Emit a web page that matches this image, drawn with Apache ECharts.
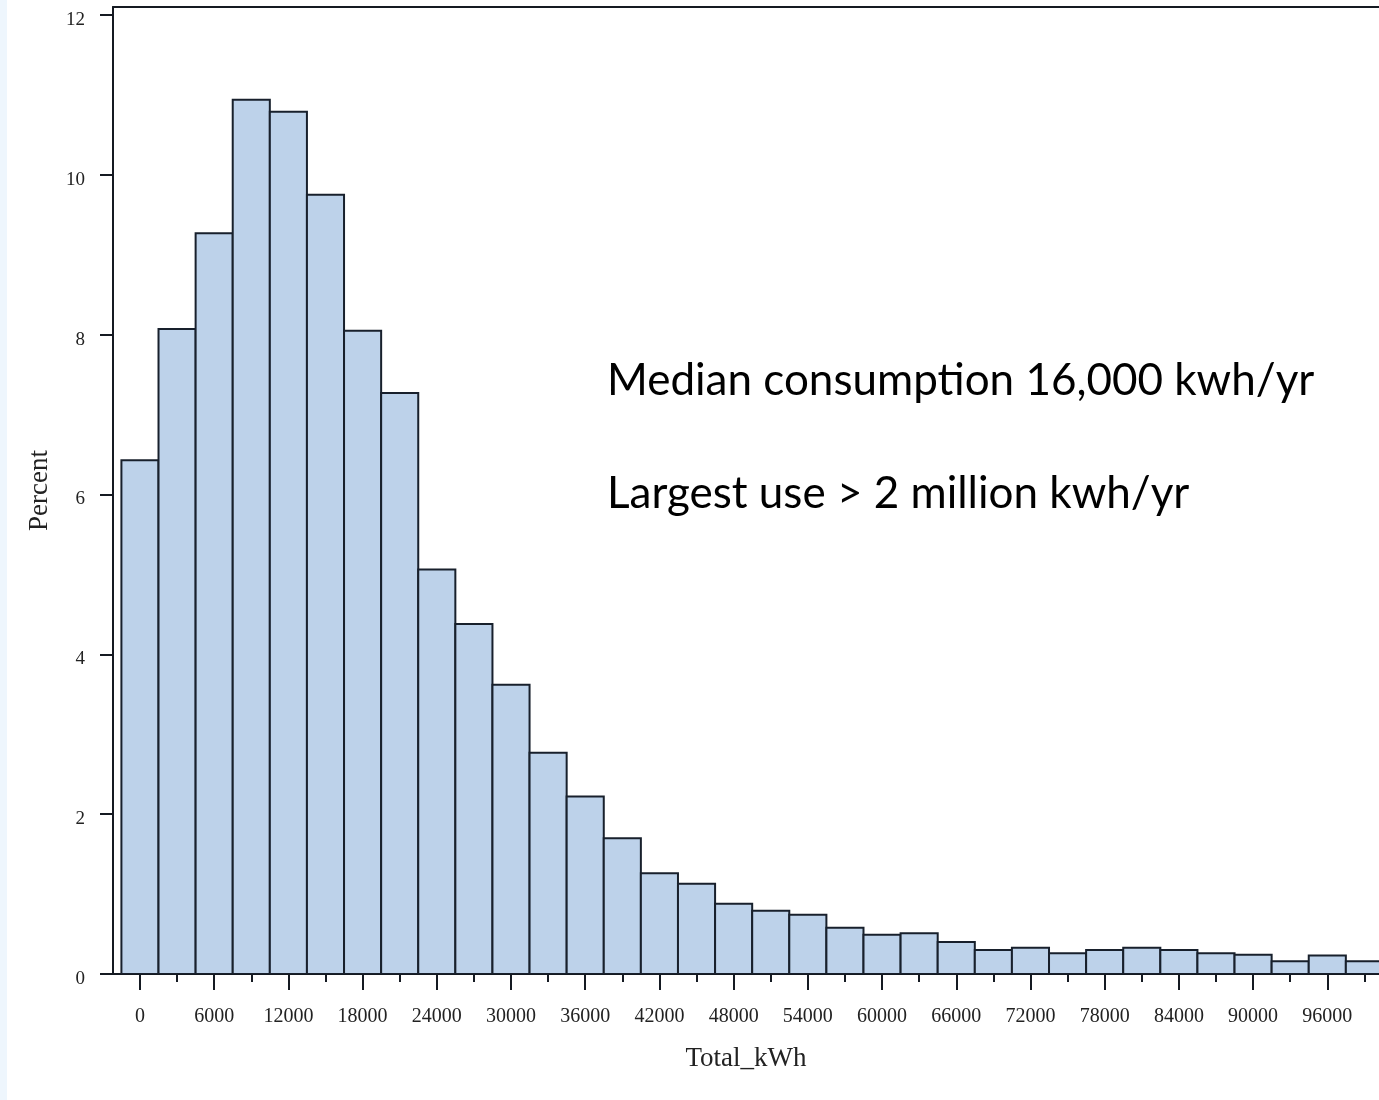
<!DOCTYPE html>
<html>
<head>
<meta charset="utf-8">
<script src="https://cdn.jsdelivr.net/npm/echarts@6/dist/echarts.min.js"></script>
<style>
  html, body { margin: 0; padding: 0; background: #ffffff; }
  #chart { width: 1379px; height: 1100px; }
</style>
</head>
<body>
<div id="chart"></div>
<script>
// ---- data ----
const binCenters = [0, 3000, 6000, 9000, 12000, 15000, 18000, 21000, 24000, 27000,
  30000, 33000, 36000, 39000, 42000, 45000, 48000, 51000, 54000, 57000,
  60000, 63000, 66000, 69000, 72000, 75000, 78000, 81000, 84000, 87000,
  90000, 93000, 96000, 99000];
const percentValues = [6.43, 8.07, 9.27, 10.94, 10.79, 9.75, 8.05, 7.27, 5.06, 4.38,
  3.62, 2.77, 2.22, 1.70, 1.26, 1.13, 0.88, 0.79, 0.74, 0.58,
  0.49, 0.51, 0.40, 0.30, 0.33, 0.26, 0.30, 0.33, 0.30, 0.26,
  0.24, 0.16, 0.23, 0.16];
const binWidth = 3000;
const majorTicks = [0, 6000, 12000, 18000, 24000, 30000, 36000, 42000, 48000,
  54000, 60000, 66000, 72000, 78000, 84000, 90000, 96000];
const minorTicks = [3000, 9000, 15000, 21000, 27000, 33000, 39000, 45000, 51000,
  57000, 63000, 69000, 75000, 81000, 87000, 93000, 99000];
const yTicks = [0, 2, 4, 6, 8, 10, 12];
const annotations = ['Median consumption 16,000 kwh/yr', 'Largest use > 2 million kwh/yr'];
const xTitle = 'Total_kWh';
const yTitle = 'Percent';

// ---- chart ----
const chart = echarts.init(document.getElementById('chart'), null, { renderer: 'canvas' });
const serif = '"Liberation Serif", "DejaVu Serif", serif';
const axisColor = '#151a22';
const xMin = -2180, xMax = 100180;
const yMax = 12.1;

const option = {
  backgroundColor: '#ffffff',
  animation: false,
  grid: { left: 113, right: 0, top: 7, bottom: 126, containLabel: false },
  xAxis: [
    {
      type: 'value', min: xMin, max: xMax, position: 'bottom',
      axisLine: { show: true, onZero: false, lineStyle: { color: axisColor, width: 2 } },
      axisTick: { show: true, length: 16, customValues: majorTicks, lineStyle: { color: axisColor, width: 2 } },
      axisLabel: { customValues: majorTicks, formatter: v => String(v), fontFamily: serif, fontSize: 20, color: '#222', margin: 33 },
      splitLine: { show: false },
      name: xTitle, nameLocation: 'middle', nameGap: 71,
      nameTextStyle: { fontFamily: serif, fontSize: 27, color: '#222' }
    },
    {
      type: 'value', min: xMin, max: xMax, position: 'bottom',
      axisLine: { show: false, onZero: false },
      axisTick: { show: true, length: 8, customValues: minorTicks, lineStyle: { color: axisColor, width: 2 } },
      axisLabel: { show: false },
      splitLine: { show: false }
    },
    {
      type: 'value', min: xMin, max: xMax, position: 'top',
      axisLine: { show: true, onZero: false, lineStyle: { color: axisColor, width: 2 } },
      axisTick: { show: false }, axisLabel: { show: false }, splitLine: { show: false }
    }
  ],
  yAxis: {
    type: 'value', min: 0, max: yMax,
    axisLine: { show: true, onZero: false, lineStyle: { color: axisColor, width: 2 } },
    axisTick: { show: true, length: 13, customValues: yTicks, lineStyle: { color: axisColor, width: 2 } },
    axisLabel: {
      customValues: yTicks, margin: 28,
      formatter: v => '{t|' + v + '}',
      rich: { t: { fontFamily: serif, fontSize: 19, color: '#222', padding: [10, 0, 0, 0] } }
    },
    splitLine: { show: false },
    name: yTitle, nameLocation: 'middle', nameGap: 60, nameRotate: 90,
    nameTextStyle: { fontFamily: serif, fontSize: 27, color: '#222' }
  },
  series: [{
    type: 'custom',
    xAxisIndex: 0, yAxisIndex: 0,
    clip: true,
    data: binCenters.map((c, i) => [c, percentValues[i]]),
    renderItem: function (params, api) {
      const c = api.value(0), v = api.value(1);
      const p0 = api.coord([c - binWidth / 2, v]);
      const p1 = api.coord([c + binWidth / 2, 0]);
      const rect = { x: p0[0], y: p0[1], width: p1[0] - p0[0], height: p1[1] - p0[1] };
      return {
        type: 'rect',
        shape: echarts.graphic.clipRectByRect(rect, {
          x: params.coordSys.x, y: params.coordSys.y - 5,
          width: params.coordSys.width + 5, height: params.coordSys.height + 5
        }),
        style: { fill: '#bdd2ea', stroke: '#18202c', lineWidth: 2 }
      };
    }
  }],
  graphic: [
    { type: 'rect', left: 0, top: 0, shape: { width: 7, height: 1100 }, style: { fill: '#eef6fd' }, silent: true },
    { type: 'text', left: 607, top: 359, style: { text: annotations[0], font: '44px Lato, "Open Sans", sans-serif', fill: '#000' } },
    { type: 'text', left: 607, top: 472, style: { text: annotations[1], font: '44px Lato, "Open Sans", sans-serif', fill: '#000' } }
  ]
};
chart.setOption(option);
</script>
</body>
</html>
